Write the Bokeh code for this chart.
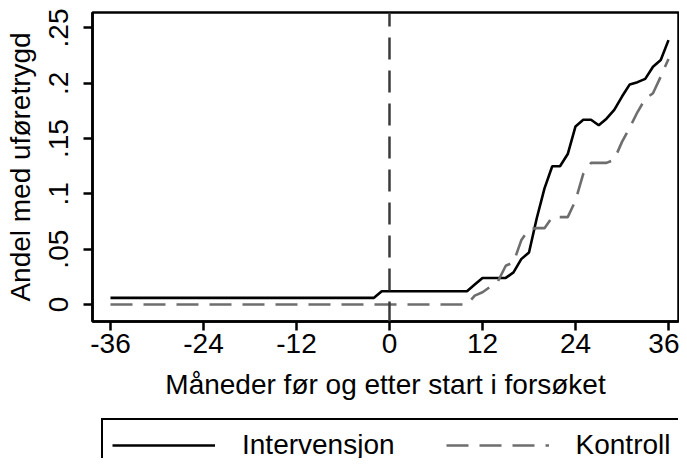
from bokeh.plotting import figure
from bokeh.layouts import column
from bokeh.models import Range1d, FixedTicker, Span, Legend, LegendItem
from bokeh.embed import file_html
from bokeh.resources import INLINE

months = list(range(-36, 37))

intervensjon = [
    0.006, 0.006, 0.006, 0.006, 0.006, 0.006, 0.006, 0.006, 0.006, 0.006,
    0.006, 0.006, 0.006, 0.006, 0.006, 0.006, 0.006, 0.006, 0.006, 0.006,
    0.006, 0.006, 0.006, 0.006, 0.006, 0.006, 0.006, 0.006, 0.006, 0.006,
    0.006, 0.006, 0.006, 0.006, 0.006, 0.012,
    0.012, 0.012, 0.012, 0.012, 0.012, 0.012, 0.012, 0.012, 0.012, 0.012, 0.012,
    0.018, 0.024, 0.024, 0.024, 0.024, 0.029, 0.041, 0.047, 0.078, 0.105,
    0.125, 0.125, 0.136, 0.161, 0.167, 0.167, 0.162, 0.168, 0.176, 0.188,
    0.199, 0.201, 0.204, 0.215, 0.221, 0.239,
]

kontroll = [
    0.0, 0.0, 0.0, 0.0, 0.0, 0.0, 0.0, 0.0, 0.0, 0.0,
    0.0, 0.0, 0.0, 0.0, 0.0, 0.0, 0.0, 0.0, 0.0, 0.0,
    0.0, 0.0, 0.0, 0.0, 0.0, 0.0, 0.0, 0.0, 0.0, 0.0,
    0.0, 0.0, 0.0, 0.0, 0.0, 0.0,
    0.0, 0.0, 0.0, 0.0, 0.0, 0.0, 0.0, 0.0, 0.0, 0.0, 0.0,
    0.008, 0.011, 0.016, 0.021, 0.035, 0.038, 0.058, 0.068, 0.069, 0.069,
    0.079, 0.079, 0.079, 0.094, 0.118, 0.128, 0.128, 0.128, 0.131, 0.147,
    0.160, 0.174, 0.186, 0.191, 0.206, 0.222,
]

x_ticks = [-36, -24, -12, 0, 12, 24, 36]
x_tick_labels = ["-36", "-24", "-12", "0", "12", "24", "36"]
y_ticks = [0, 0.05, 0.1, 0.15, 0.2, 0.25]
y_tick_labels = ["0", ".05", ".1", ".15", ".2", ".25"]

FONT = "Liberation Sans"
FS = "28px"
KONTROLL_COLOR = "#6e6e6e"
DASH = "22 11"

p = figure(width=679, height=409, output_backend="svg", toolbar_location=None,
           title=None,
           x_range=Range1d(-38.32, 37.29), y_range=Range1d(-0.0154, 0.264),
           min_border_left=92, min_border_right=1, min_border_top=12,
           min_border_bottom=88)
p.background_fill_color = "white"
p.border_fill_color = "white"
p.outline_line_color = "black"
p.outline_line_width = 2.5
p.xgrid.visible = False
p.ygrid.visible = False

r1 = p.line(months, intervensjon, line_color="black", line_width=2.6)
r2 = p.line(months, kontroll, line_color=KONTROLL_COLOR, line_width=2.6, line_dash=DASH)

vline = Span(location=0, dimension="height", line_color="#3a3a3a", line_width=2.5,
             line_dash=DASH, line_dash_offset=8)
p.add_layout(vline)

for ax in (p.xaxis[0], p.yaxis[0]):
    ax.axis_line_color = "black"
    ax.axis_line_width = 2.5
    ax.major_tick_line_color = "black"
    ax.major_tick_line_width = 2.5
    ax.major_tick_in = 0
    ax.major_tick_out = 9
    ax.minor_tick_line_color = None
    ax.major_label_text_font = FONT
    ax.major_label_text_font_size = FS
    ax.major_label_text_color = "black"
    ax.axis_label_text_font = FONT
    ax.axis_label_text_font_size = FS
    ax.axis_label_text_font_style = "normal"
    ax.axis_label_text_color = "black"

p.xaxis.ticker = FixedTicker(ticks=x_ticks)
p.xaxis.major_label_overrides = {t: l for t, l in zip(x_ticks, x_tick_labels)}
p.xaxis.axis_label = "Måneder før og etter start i forsøket"
p.xaxis.major_label_standoff = 3
p.xaxis.axis_label_standoff = 13

p.yaxis.ticker = FixedTicker(ticks=y_ticks)
p.yaxis.major_label_overrides = {t: l for t, l in zip(y_ticks, y_tick_labels)}
p.yaxis.major_label_orientation = "vertical"
p.yaxis.axis_label = "Andel med uføretrygd"
p.yaxis.major_label_standoff = 15
p.yaxis.axis_label_standoff = 11

# legend strip below the chart (its lower edge falls outside the picture, as in the reference)
p2 = figure(width=679, height=49, output_backend="svg", toolbar_location=None,
            title=None, x_axis_location=None, y_axis_location=None,
            x_range=Range1d(1000, 1001), y_range=Range1d(1000, 1001),
            min_border_left=92, min_border_right=0, min_border_top=0,
            min_border_bottom=0)
p2.outline_line_color = None
p2.xgrid.visible = False
p2.ygrid.visible = False
p2.background_fill_color = "white"
p2.border_fill_color = "white"
l1 = p2.line(months, intervensjon, line_color="black", line_width=2.6)
l2 = p2.line(months, kontroll, line_color=KONTROLL_COLOR, line_width=2.6, line_dash=DASH)

legend = Legend(items=[LegendItem(label="Intervensjon", renderers=[l1]),
                       LegendItem(label="Kontroll", renderers=[l2])],
                location="top_left", orientation="horizontal")
legend.margin = 9
legend.padding = 9
legend.spacing = 51
legend.label_standoff = 27
legend.glyph_width = 103
legend.glyph_height = 20
legend.label_text_font = FONT
legend.label_text_font_size = FS
legend.label_text_color = "black"
legend.border_line_color = "black"
legend.border_line_alpha = 1.0
legend.border_line_width = 2.5
legend.background_fill_color = "white"
legend.background_fill_alpha = 1.0
p2.add_layout(legend, "center")

layout = column(p, p2, spacing=0)

open("out.html", "w").write(file_html(layout, INLINE))
